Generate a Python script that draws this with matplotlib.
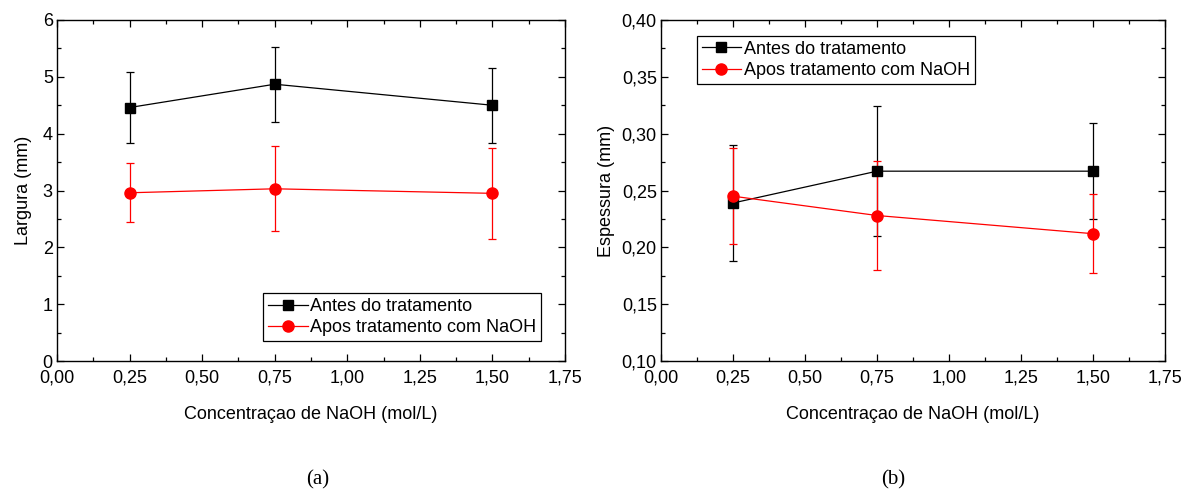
import matplotlib
matplotlib.use("Agg")
import matplotlib.pyplot as plt
from matplotlib.ticker import MultipleLocator, FuncFormatter
from matplotlib.lines import Line2D

plt.rcParams['font.family'] = ['Liberation Sans', 'DejaVu Sans']

conc = [0.25, 0.75, 1.50]

larg_antes = [4.46, 4.87, 4.50]
larg_antes_err = [0.63, 0.66, 0.66]
larg_apos = [2.96, 3.03, 2.95]
larg_apos_err = [0.52, 0.75, 0.80]

esp_antes = [0.239, 0.267, 0.267]
esp_antes_err = [0.051, 0.057, 0.042]
esp_apos = [0.245, 0.228, 0.212]
esp_apos_err = [0.042, 0.048, 0.035]

label_antes = "Antes do tratamento"
label_apos = "Apos tratamento com NaOH"
xlabel = "Concentraçao de NaOH (mol/L)"

FS = 13

fig = plt.figure(figsize=(11.97, 4.92), dpi=100)
ax1 = fig.add_axes([57/1197, 1-361/492, (565-57)/1197, (361-20)/492])
ax2 = fig.add_axes([661/1197, 1-361/492, (1165-661)/1197, (361-20)/492])

def draw(ax, a, ae, b, be):
    ax.errorbar(conc, a, yerr=ae, color='black', marker='s', markersize=7,
                lw=0.9, elinewidth=0.9, capsize=3, capthick=0.9, zorder=3)
    ax.errorbar(conc, b, yerr=be, color='red', marker='o', markersize=8,
                lw=0.9, elinewidth=0.9, capsize=3, capthick=0.9, zorder=3)
    ax.set_xlim(0, 1.75)
    ax.xaxis.set_major_locator(MultipleLocator(0.25))
    ax.xaxis.set_minor_locator(MultipleLocator(0.125))
    ax.xaxis.set_major_formatter(FuncFormatter(lambda v, p: f"{v:.2f}".replace('.', ',')))
    ax.tick_params(which='both', direction='in', top=True, right=True, labelsize=FS)
    ax.tick_params(which='major', length=5, width=0.9)
    ax.tick_params(which='minor', length=3, width=0.9)
    ax.tick_params(axis='x', pad=6)
    ax.tick_params(axis='y', pad=3)
    for s in ax.spines.values():
        s.set_linewidth(1.0)
    ax.set_xlabel(xlabel, fontsize=FS, labelpad=14)

def handles():
    return [Line2D([], [], color='black', marker='s', markersize=7, lw=0.9),
            Line2D([], [], color='red', marker='o', markersize=8, lw=0.9)]

leg_kw = dict(fontsize=FS, frameon=True, fancybox=False, edgecolor='black',
              handlelength=2.2, handletextpad=0.15, borderpad=0.25, labelspacing=0.25,
              borderaxespad=0.0, framealpha=1)

draw(ax1, larg_antes, larg_antes_err, larg_apos, larg_apos_err)
ax1.set_ylim(0, 6)
ax1.yaxis.set_major_locator(MultipleLocator(1))
ax1.yaxis.set_minor_locator(MultipleLocator(0.5))
ax1.set_ylabel("Largura (mm)", fontsize=FS, labelpad=8)
l1 = ax1.legend(handles(), [label_antes, label_apos], loc='lower right',
                bbox_to_anchor=((541-57)/508, (361-341)/341), **leg_kw)
l1.get_frame().set_linewidth(0.9)

draw(ax2, esp_antes, esp_antes_err, esp_apos, esp_apos_err)
ax2.set_ylim(0.10, 0.40)
ax2.yaxis.set_major_locator(MultipleLocator(0.05))
ax2.yaxis.set_minor_locator(MultipleLocator(0.025))
ax2.yaxis.set_major_formatter(FuncFormatter(lambda v, p: f"{v:.2f}".replace('.', ',')))
ax2.set_ylabel("Espessura (mm)", fontsize=FS, labelpad=5)
l2 = ax2.legend(handles(), [label_antes, label_apos], loc='upper left',
                bbox_to_anchor=((697-661)/504, (361-36)/341), **leg_kw)
l2.get_frame().set_linewidth(0.9)

fig.text(318/1197, 1-480/492, "(a)", family=['Liberation Serif'], fontsize=15, ha='center', va='center')
fig.text(893/1197, 1-480/492, "(b)", family=['Liberation Serif'], fontsize=15, ha='center', va='center')

fig.savefig("out.png", dpi=100)
